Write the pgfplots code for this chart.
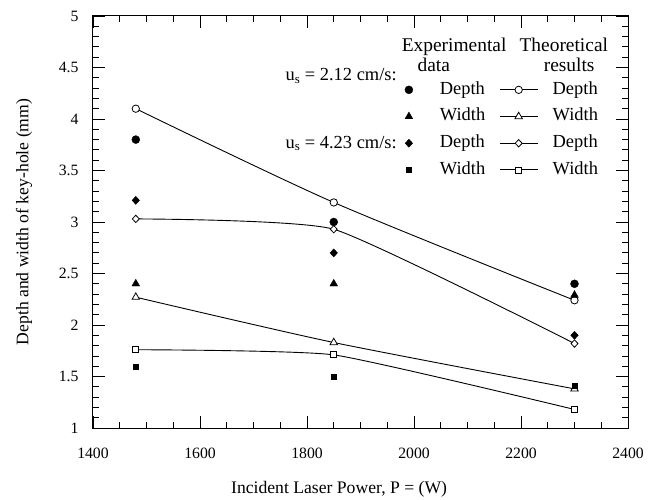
\documentclass[border=0pt]{standalone}
\usepackage{fontspec}
\setmainfont{Liberation Serif}
\usepackage{pgfplots}
\pgfplotsset{compat=1.18}
\pgfplotsset{
  exp/.style={black, only marks, mark size=#1,
    legend image code/.code={\path[draw=none, fill=none] (-4bp,-6bp) rectangle (31bp,6bp); \draw[##1] plot coordinates {(0bp,0bp)};}},
  theo/.style={black, smooth, line width=0.9bp, mark size=#1, mark options={fill=white, solid, line width=0.8bp},
    legend image code/.code={\path[draw=none, fill=none] (0bp,-6bp) rectangle (53bp,6bp); \draw[##1, mark repeat=2, mark phase=2] plot coordinates {(0bp,0bp) (19bp,0bp) (38bp,0bp)};}},
}
\begin{document}
\begin{tikzpicture}
\begin{axis}[
  scale only axis, width=535bp, height=412bp,
  xmin=1400, xmax=2400, ymin=1, ymax=5,
  xtick={1400,1600,...,2400}, ytick={1,1.5,...,5},
  minor x tick num=3, minor y tick num=4,
  major tick length=12bp, minor tick length=6bp,
  tick align=inside,
  axis line style={line width=1bp},
  tick style={black, line width=0.8bp},
  /pgf/number format/assume math mode=true,
  /pgf/number format/1000 sep={},
  yticklabel style={font=\fontsize{15.8}{18}\selectfont, xshift=-11bp},
  xticklabel style={font=\fontsize{15.8}{18}\selectfont, yshift=-17bp},
  xlabel={Incident Laser Power, P = (W)},
  ylabel={Depth and width of key-hole (mm)},
  xlabel style={font=\fontsize{17.7}{20}\selectfont, at={(axis description cs:0.46,-0.158)}, anchor=base},
  ylabel style={font=\fontsize{17.7}{20}\selectfont, at={(axis description cs:-0.129,0.5)}, anchor=center},
  legend columns=2, legend cell align=left,
  legend style={draw=none, fill=none, inner sep=0pt, outer sep=0pt,
    at={(axis description cs:0.583,0.842)}, anchor=north west, row sep=9.2bp,
    nodes={inner sep=0pt, text height=13bp, text depth=4.5bp, font=\fontsize{18.5}{20}\selectfont},
    /tikz/every even column/.append style={column sep=14bp}},
]
% u_s = 2.12 cm/s
\addplot[exp=4bp, mark=*] coordinates {(1480,3.80) (1850,3.00) (2300,2.40)};
\addlegendentry{Depth}
\addplot[theo=3.7bp, mark=*, tension=0.45] coordinates {(1480,4.10) (1850,3.19) (2300,2.24)};
\addlegendentry{Depth}
\addplot[exp=4.5bp, mark=triangle*] coordinates {(1480,2.40) (1850,2.40) (2300,2.29)};
\addlegendentry{Width}
\addplot[theo=4.3bp, mark=triangle*, tension=0.4] coordinates {(1480,2.27) (1850,1.83) (2300,1.38)};
\addlegendentry{Width}
% u_s = 4.23 cm/s
\addplot[exp=4bp, mark=diamond*, mark options={xscale=1.25}] coordinates {(1480,3.21) (1850,2.70) (2300,1.90)};
\addlegendentry{Depth}
\addplot[theo=3.7bp, mark=diamond*, mark options={fill=white, solid, line width=0.8bp, xscale=1.25}, tension=0.28] coordinates {(1480,3.03) (1850,2.93) (2300,1.82)};
\addlegendentry{Depth}
\addplot[exp=2.5bp, mark=square*] coordinates {(1480,1.60) (1850,1.50) (2300,1.41)};
\addlegendentry{Width}
\addplot[theo=3bp, mark=square*, tension=0.28] coordinates {(1480,1.76) (1850,1.71) (2300,1.18)};
\addlegendentry{Width}

\node[inner sep=0pt, anchor=base, font=\fontsize{19.5}{22}\selectfont] at (axis cs:2075,4.66) {Experimental};
\node[inner sep=0pt, anchor=base, font=\fontsize{19.5}{22}\selectfont] at (axis cs:2037,4.466) {data};
\node[inner sep=0pt, anchor=base, font=\fontsize{19.5}{22}\selectfont] at (axis cs:2280,4.66) {Theoretical};
\node[inner sep=0pt, anchor=base, font=\fontsize{19.5}{22}\selectfont] at (axis cs:2290,4.466) {results};
\node[inner sep=0pt, anchor=base east, font=\fontsize{18.5}{20}\selectfont] at (axis cs:1968,4.369) {u\textsubscript{s} = 2.12 cm/s:};
\node[inner sep=0pt, anchor=base east, font=\fontsize{18.5}{20}\selectfont] at (axis cs:1968,3.718) {u\textsubscript{s} = 4.23 cm/s:};
\end{axis}
\pgfresetboundingbox
\path[use as bounding box] (-93bp,-72bp) rectangle (564bp,428bp);
\end{tikzpicture}
\end{document}
